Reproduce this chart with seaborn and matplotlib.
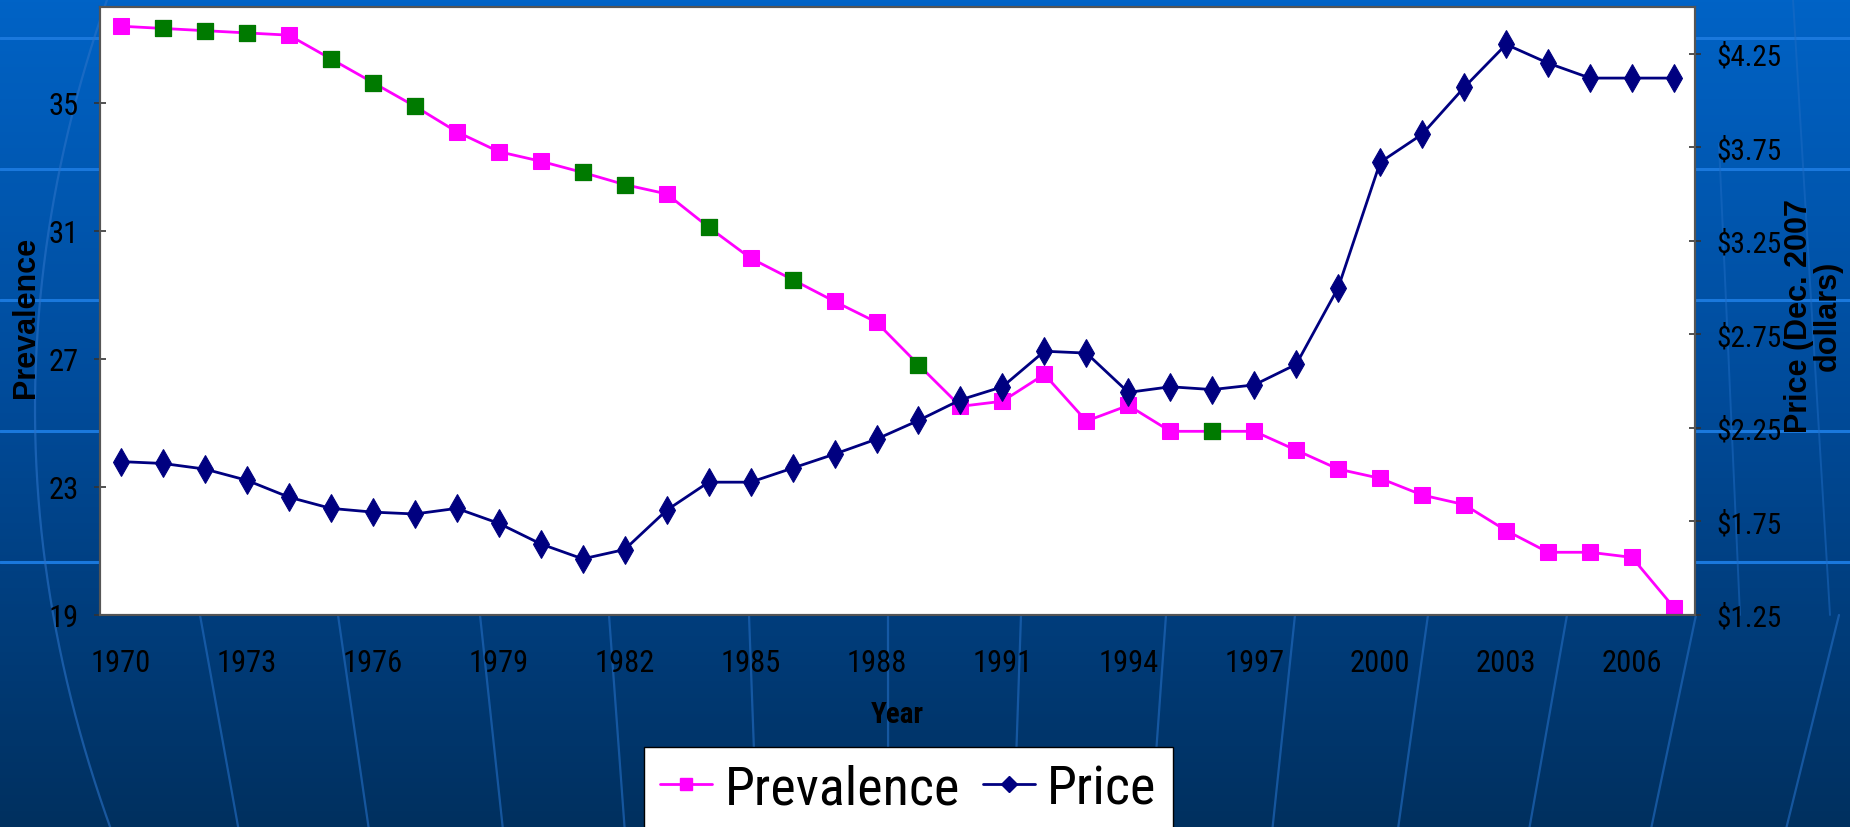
import numpy as np
import pandas as pd
import matplotlib.pyplot as plt
from matplotlib import font_manager
from matplotlib.colors import LinearSegmentedColormap
from matplotlib.lines import Line2D
import seaborn as sns

### Data
years = list(range(1970, 2008))
prevalence = [37.4, 37.33, 37.26, 37.19, 37.12, 36.38, 35.64, 34.9, 34.1, 33.48,
              33.18, 32.83, 32.45, 32.16, 31.12, 30.15, 29.48, 28.8, 28.15, 26.82,
              25.52, 25.68, 26.52, 25.06, 25.55, 24.74, 24.74, 24.74, 24.15, 23.56,
              23.27, 22.75, 22.45, 21.64, 20.96, 20.96, 20.8, 19.23]
price = [2.07, 2.06, 2.03, 1.97, 1.88, 1.82, 1.80, 1.79, 1.82, 1.74,
         1.63, 1.55, 1.60, 1.81, 1.96, 1.96, 2.035, 2.11, 2.19, 2.29,
         2.40, 2.47, 2.66, 2.65, 2.44, 2.47, 2.455, 2.48, 2.59, 3.00,
         3.67, 3.82, 4.07, 4.30, 4.20, 4.12, 4.12, 4.12]
# years whose prevalence marker is drawn in green
green_years = [1971, 1972, 1973, 1975, 1976, 1977, 1981, 1982, 1984, 1986, 1989, 1996]

prev_ticks = [19, 23, 27, 31, 35]
price_ticks = [1.25, 1.75, 2.25, 2.75, 3.25, 3.75, 4.25]

df = pd.DataFrame({"Year": years, "Prevalence": prevalence, "Price": price})
df_green = df[df["Year"].isin(green_years)]

PINK = "#FF00FF"
NAVY = "#000080"
GREEN = "#007A00"

sns.set_style("white")
available = {f.name for f in font_manager.fontManager.ttflist}
narrow = "Liberation Sans"
for cand in ["Liberation Sans Narrow", "Arimo Narrow", "Roboto Condensed", "Archivo Narrow", "PT Sans Narrow"]:
    if cand in available:
        narrow = cand
        break
plt.rcParams["font.family"] = [narrow, "DejaVu Sans"]
for key in ["text.color", "axes.labelcolor", "xtick.color", "ytick.color"]:
    plt.rcParams[key] = "black"

fig = plt.figure(figsize=(18.5, 8.28), dpi=100)

### Slide-style blue background
bg = fig.add_axes([0, 0, 1, 1], zorder=-10)
grad = np.linspace(0, 1, 256).reshape(-1, 1)
cmap = LinearSegmentedColormap.from_list("bg", ["#0063C6", "#004A98", "#00305F"])
bg.imshow(grad, aspect="auto", cmap=cmap, extent=[0, 1850, 828, 0])
for y in [39, 170, 301, 432, 563]:
    bg.plot([0, 1850], [y, y], color="#1A78DC", lw=2.2)
yy = np.linspace(0, 828, 200)
bg.plot(35 + 4.3e-4 * (yy - 410) ** 2, yy, color="#2A72C8", lw=1.6, alpha=0.6)
yb = np.linspace(616, 828, 50)
for x0 in [200, 338, 480, 609, 749, 888, 1021, 1166, 1295, 1428, 1567, 1696, 1839]:
    bg.plot(x0 + (890 - x0) * 0.055 * (yb - 616) / 211, yb, color="#1F66B8", lw=1.6, alpha=0.7)
bg.plot([1719, 1740], [145, 616], color="#1F6CC4", lw=1.4, alpha=0.5)
bg.plot([1793, 1830], [0, 616], color="#1F6CC4", lw=1.4, alpha=0.5)
bg.set_xlim(0, 1850)
bg.set_ylim(828, 0)
bg.axis("off")

### Main chart
ax = fig.add_axes([100 / 1850, 1 - 616 / 828, 1595 / 1850, 608 / 828])
ax.set_facecolor("white")

sns.lineplot(data=df, x="Year", y="Prevalence", ax=ax, color=PINK, lw=2,
             marker="s", markersize=11.5, markeredgecolor=PINK, legend=False)
sns.scatterplot(data=df_green, x="Year", y="Prevalence", ax=ax, color=GREEN,
                marker="s", s=130, edgecolor=GREEN, zorder=3, legend=False)

ax2 = ax.twinx()
sns.lineplot(data=df, x="Year", y="Price", ax=ax2, color=NAVY, lw=2,
             marker="d", markersize=14, markeredgecolor=NAVY, legend=False)

ax.set_xlim(1969.5, 2007.5)
ax.set_xticks(np.arange(1969.5, 2008, 1))
ax.set_xticklabels([])
ax.set_xticks(years[::3], minor=True)
ax.set_xticklabels([str(y) for y in years[::3]], minor=True)
ax.tick_params(axis="x", which="major", direction="inout", length=9, width=1.2, color="#333333")
ax.tick_params(axis="x", which="minor", length=0, pad=24, labelsize=22)

ax.set_ylim(19, 38)
ax.set_yticks(prev_ticks)
ax.tick_params(axis="y", direction="inout", length=9, width=1.2, color="#333333",
               pad=11, labelsize=22)

ax2.set_ylim(1.25, 4.5)
ax2.set_yticks(price_ticks)
ax2.set_yticklabels([f"${v:.2f}" for v in price_ticks])
ax2.tick_params(axis="y", direction="inout", length=9, width=1.2, color="#333333",
                pad=11, labelsize=21)

for a in [ax, ax2]:
    for side in ["left", "bottom", "right", "top"]:
        a.spines[side].set_visible(True)
        a.spines[side].set_color("#555555")
        a.spines[side].set_linewidth(1.5)
ax.spines["bottom"].set_color("#222222")

ax.set_xlabel("Year", fontsize=21, fontweight="bold")
ax.xaxis.set_label_coords(0.5, -0.14)
ax.set_ylabel("Prevalence", fontsize=22, fontweight="bold", family=["Liberation Sans", "DejaVu Sans"])
ax.yaxis.set_label_coords(-0.037, 0.491)
ax2.set_ylabel("Price (Dec. 2007\ndollars)", fontsize=22, fontweight="bold",
               family=["Liberation Sans", "DejaVu Sans"], linespacing=0.95)
ax2.yaxis.set_label_coords(1.056, 0.493)

handles = [Line2D([], [], color=PINK, lw=2, marker="s", markersize=9),
           Line2D([], [], color=NAVY, lw=2, marker="D", markersize=8)]
fig.legend(handles=handles, labels=["Prevalence", "Price"], loc="upper left",
           bbox_to_anchor=(644 / 1850, 1 - 748 / 828), borderaxespad=0, ncol=2,
           frameon=True, fancybox=False, edgecolor="black", framealpha=1, fontsize=39,
           handlelength=0.96, handletextpad=0.23, columnspacing=0.42, borderpad=0.3)

fig.savefig("out.png", dpi=100)
